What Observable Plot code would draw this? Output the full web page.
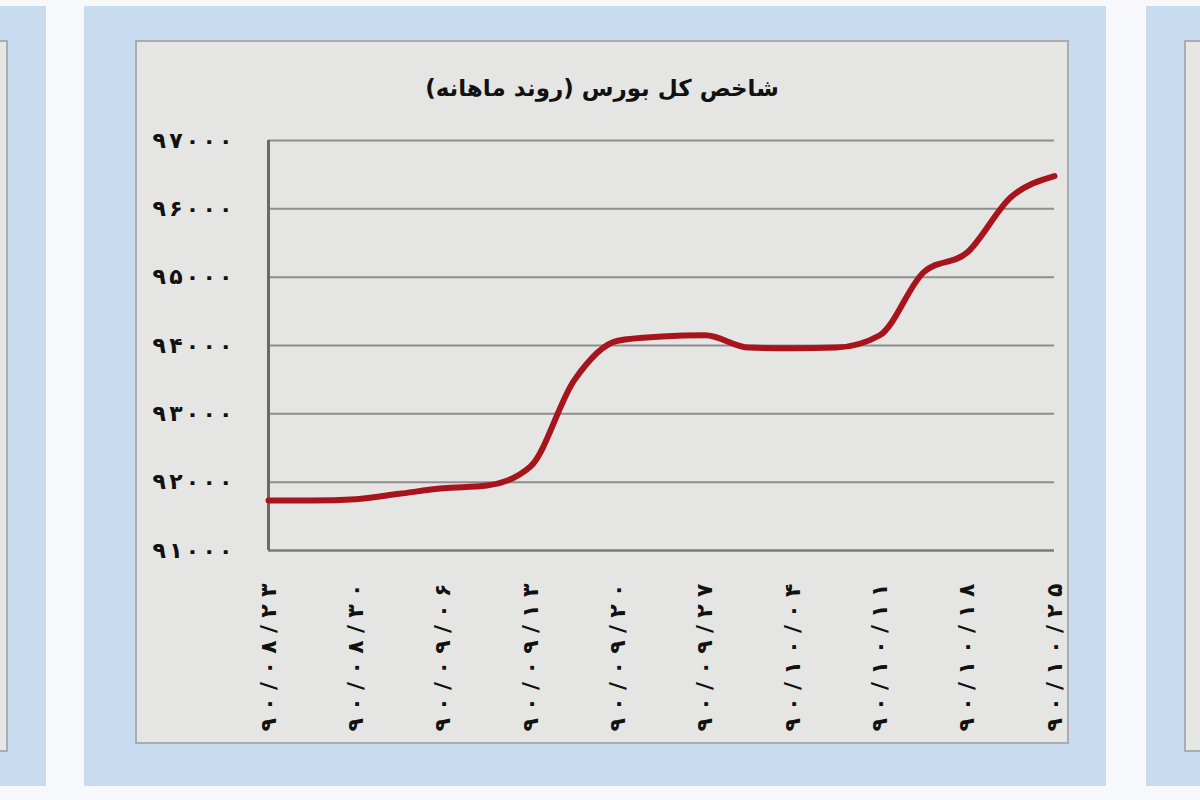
<!DOCTYPE html>
<html>
<head>
<meta charset="utf-8">
<script src="https://cdn.jsdelivr.net/npm/d3@7"></script>
<script src="https://cdn.jsdelivr.net/npm/@observablehq/plot@0.6"></script>
<style>
  html, body { margin: 0; padding: 0; }
  body { width: 1200px; height: 800px; background: #f6f8fb; position: relative; overflow: hidden; font-family: "DejaVu Sans", sans-serif; }
  .panel { position: absolute; background: #c8dbef; }
  .inner { position: absolute; background: #e5e5e4; border: 2px solid #a9acb0; box-sizing: border-box; }
  #title { position: absolute; left: 0; right: 0; top: 33px; text-align: center; font-weight: bold; font-size: 23px; color: #111; direction: rtl; }
  #chart { position: absolute; left: 0; top: 78px; }
</style>
</head>
<body>
<div class="panel" style="left:0;top:6px;width:46px;height:780px;"><div class="inner" style="left:-20px;top:34px;width:28px;height:712px;"></div></div>
<div class="panel" style="left:1146px;top:6px;width:60px;height:780px;"><div class="inner" style="left:38px;top:34px;width:40px;height:712px;"></div></div>
<div class="panel" style="left:84px;top:6px;width:1022px;height:780px;">
  <div class="inner" id="box" style="left:51px;top:34px;width:934px;height:704px;">
    <div id="title">شاخص کل بورس (روند ماهانه)</div>
    <div id="chart"></div>
  </div>
</div>
<script>
const xLabels = ["۹۰/۰۸/۲۳","۹۰/۰۸/۳۰","۹۰/۰۹/۰۶","۹۰/۰۹/۱۳","۹۰/۰۹/۲۰","۹۰/۰۹/۲۷","۹۰/۱۰/۰۴","۹۰/۱۰/۱۱","۹۰/۱۰/۱۸","۹۰/۱۰/۲۵"];
const labelIndex = [0, 2, 4, 6, 8, 10, 12, 14, 16, 18];
const pointIndex = [0,1,2,3,4,5,6,7,8,9,10,11,12,13,14,15,16,17,18];
const indexValues = [91730,91730,91750,91830,91910,91950,92230,93490,94070,94130,94150,93970,93960,93970,94150,95070,95360,96170,96480];
const yTicks = [91000,92000,93000,94000,95000,96000,97000];
const yTickLabels = ["۹۱۰۰۰","۹۲۰۰۰","۹۳۰۰۰","۹۴۰۰۰","۹۵۰۰۰","۹۶۰۰۰","۹۷۰۰۰"];

const data = pointIndex.map((i, k) => ({i, v: indexValues[k]}));

const chart = Plot.plot({
  width: 930,
  height: 620,
  marginLeft: 131,
  marginRight: 13,
  marginTop: 20,
  marginBottom: 190,
  style: {background: "transparent", fontFamily: "DejaVu Sans, sans-serif", color: "#111"},
  x: {domain: [0, 18], ticks: labelIndex, tickFormat: d => xLabels[labelIndex.indexOf(d)], tickSize: 0, tickRotate: -90, tickPadding: 33, label: null},
  y: {domain: [91000, 97000], ticks: yTicks, tickFormat: d => yTickLabels[yTicks.indexOf(d)], tickSize: 0, tickPadding: 36, label: null},
  marks: [
    Plot.ruleY(yTicks.slice(1), {stroke: "#8e8e8e", strokeWidth: 2}),
    Plot.ruleY([91000], {stroke: "#7a7a7a", strokeWidth: 2.5}),
    Plot.ruleX([0], {stroke: "#6a6a6a", strokeWidth: 3}),
    Plot.line(data, {x: "i", y: "v", stroke: "#a8141c", strokeWidth: 6, curve: "monotone-x", strokeLinejoin: "round"})
  ]
});
chart.querySelectorAll("[aria-label='y-axis tick label'] text").forEach(t => {
  t.setAttribute("font-weight", "bold");
  t.setAttribute("font-size", "22px");
  t.setAttribute("textLength", "80");
  t.setAttribute("lengthAdjust", "spacing");
});
chart.querySelectorAll("[aria-label='x-axis tick label'] text").forEach(t => {
  t.setAttribute("font-weight", "bold");
  t.setAttribute("font-size", "22px");
  t.setAttribute("textLength", "148");
  t.setAttribute("lengthAdjust", "spacing");
});
document.getElementById("chart").appendChild(chart);
</script>
</body>
</html>
